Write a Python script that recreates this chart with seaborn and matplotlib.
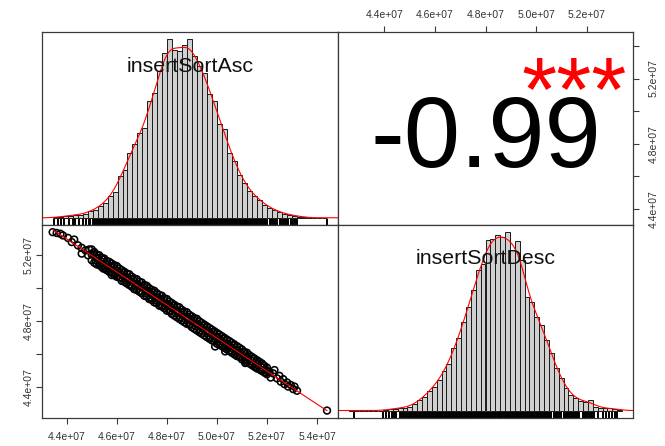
import numpy as np
import pandas as pd
import matplotlib
matplotlib.use("Agg")
import matplotlib.pyplot as plt
import seaborn as sns

# ---------------- data (values in millions) ----------------
var_names = ["insertSortAsc", "insertSortDesc"]
corr_text = "-0.99"
signif_text = "***"

# histogram bins (width 0.2e6) and counts
bin_width = 0.2
asc_bin_start = 43.4
asc_counts = [2, 3, 5, 7, 9, 10, 12, 20, 25, 35, 45, 65, 78, 125, 145, 195, 220, 255,
              270, 350, 375, 440, 495, 535, 503, 500, 517, 535, 485, 455, 435, 370,
              350, 280, 265, 195, 170, 130, 105, 80, 65, 55, 40, 30, 25, 17, 12, 10,
              7, 4, 2, 1, 0, 0, 1]
desc_bin_start = 42.4
desc_counts = [1, 0, 0, 0, 0, 0, 0, 2, 4, 6, 8, 9, 12, 20, 32, 42, 60, 72, 92, 119,
               139, 187, 217, 267, 312, 362, 422, 440, 512, 515, 527, 519, 535, 482,
               507, 452, 342, 327, 282, 257, 212, 172, 127, 97, 67, 47, 37, 29, 25,
               32, 12, 9, 7, 7, 5, 3]

# scatter points (insertSortAsc, insertSortDesc) sampled from the lower-left panel
asc_pts = [
    43.44, 43.6, 43.75, 43.85, 44.05, 44.2, 44.3, 44.45, 44.6, 44.6, 44.75, 44.85, 44.9,
    45.0, 45.0, 45.0, 45.1, 45.1,
    45.2, 45.2, 45.2, 45.3, 45.3,
    45.4, 45.4, 45.4, 45.5, 45.5,
    45.6, 45.6, 45.6, 45.7, 45.7,
    45.8, 45.8, 45.8, 45.9, 45.9,
    46.0, 46.0, 46.0, 46.1, 46.1,
    46.2, 46.2, 46.2, 46.3, 46.3,
    46.4, 46.4, 46.4, 46.5, 46.5,
    46.6, 46.6, 46.6, 46.7, 46.7,
    46.8, 46.8, 46.8, 46.9, 46.9,
    47.0, 47.0, 47.0, 47.1, 47.1,
    47.2, 47.2, 47.2, 47.3, 47.3,
    47.4, 47.4, 47.4, 47.5, 47.5,
    47.6, 47.6, 47.6, 47.7, 47.7,
    47.8, 47.8, 47.8, 47.9, 47.9,
    48.0, 48.0, 48.0, 48.1, 48.1,
    48.2, 48.2, 48.2, 48.3, 48.3,
    48.4, 48.4, 48.4, 48.5, 48.5,
    48.6, 48.6, 48.6, 48.7, 48.7,
    48.8, 48.8, 48.8, 48.9, 48.9,
    49.0, 49.0, 49.0, 49.1, 49.1,
    49.2, 49.2, 49.2, 49.3, 49.3,
    49.4, 49.4, 49.4, 49.5, 49.5,
    49.6, 49.6, 49.6, 49.7, 49.7,
    49.8, 49.8, 49.8, 49.9, 49.9,
    50.0, 50.0, 50.0, 50.1, 50.1,
    50.2, 50.2, 50.2, 50.3, 50.3,
    50.4, 50.4, 50.4, 50.5, 50.5,
    50.6, 50.6, 50.6, 50.7, 50.7,
    50.8, 50.8, 50.8, 50.9, 50.9,
    51.0, 51.0, 51.0, 51.1, 51.1,
    51.2, 51.2, 51.2, 51.3, 51.3,
    51.4, 51.4, 51.4, 51.5, 51.5,
    51.6, 51.6, 51.6, 51.7, 51.7,
    51.8, 51.8, 51.8, 51.9, 51.9,
    52.0, 52.0, 52.0,
    49.93, 50.33, 51.13, 45.46, 45.8,
    52.1, 52.15, 52.25, 52.3, 52.4, 52.5, 52.55, 52.65, 52.7, 52.8, 52.85, 52.95,
    53.05, 53.1, 53.2, 54.4,
    # mid-band points
    45.05, 45.15, 45.25, 45.35, 45.45, 45.55, 45.65, 45.75, 45.85, 45.95,
    46.05, 46.15, 46.25, 46.35, 46.45, 46.55, 46.65, 46.75, 46.85, 46.95,
    47.05, 47.15, 47.25, 47.35, 47.45, 47.55, 47.65, 47.75, 47.85, 47.95,
    48.05, 48.15, 48.25, 48.35, 48.45, 48.55, 48.65, 48.75, 48.85, 48.95,
    49.05, 49.15, 49.25, 49.35, 49.45, 49.55, 49.65, 49.75, 49.85, 49.95,
    50.05, 50.15, 50.25, 50.35, 50.45, 50.55, 50.65, 50.75, 50.85, 50.95,
    51.05, 51.15, 51.25, 51.35, 51.45, 51.55, 51.65, 51.75, 51.85, 51.95,
]
desc_pts = [
    53.4, 53.35, 53.3, 53.2, 53.05, 52.8, 52.95, 52.6, 52.1, 52.45, 52.3, 52.0, 52.35,
    52.35, 51.7, 52.05, 51.55, 52.2,
    52.05, 51.45, 51.8, 52.0, 51.4,
    51.3, 51.85, 51.6, 51.8, 51.2,
    51.65, 51.1, 51.4, 51.0, 51.6,
    51.5, 50.95, 51.25, 50.8, 51.4,
    51.35, 50.7, 51.05, 50.65, 51.2,
    51.1, 50.45, 50.8, 51.0, 50.4,
    50.3, 50.9, 50.6, 50.85, 50.2,
    50.7, 50.1, 50.4, 49.95, 50.6,
    50.55, 49.9, 50.2, 49.8, 50.4,
    50.35, 49.7, 50.05, 49.55, 50.2,
    50.15, 49.5, 49.8, 50.0, 49.35,
    49.3, 49.9, 49.6, 49.85, 49.15,
    49.7, 49.1, 49.4, 48.95, 49.6,
    49.55, 48.9, 49.2, 48.8, 49.4,
    49.35, 48.65, 49.0, 48.6, 49.2,
    49.1, 48.45, 48.8, 49.0, 48.35,
    48.25, 48.9, 48.6, 48.85, 48.15,
    48.7, 48.05, 48.4, 47.95, 48.6,
    48.55, 47.85, 48.2, 47.8, 48.4,
    48.3, 47.65, 48.0, 47.55, 48.2,
    48.15, 47.45, 47.8, 48.0, 47.35,
    47.25, 47.9, 47.6, 47.8, 47.15,
    47.7, 47.05, 47.4, 46.95, 47.6,
    47.5, 46.85, 47.2, 46.8, 47.4,
    47.3, 46.65, 47.0, 46.6, 47.2,
    47.1, 46.5, 46.8, 47.0, 46.4,
    46.3, 46.9, 46.6, 46.8, 46.2,
    46.7, 46.1, 46.4, 46.0, 46.6,
    46.5, 45.9, 46.2, 45.85, 46.4,
    46.3, 45.7, 46.0, 45.65, 46.15,
    46.1, 45.5, 45.8, 45.95, 45.45,
    45.35, 45.85, 45.6, 45.75, 45.25,
    45.65, 45.15, 45.4, 45.1, 45.55,
    45.45, 45.0, 45.2, 44.9, 45.3,
    45.2, 44.8, 45.0,
    46.48, 46.18, 45.48, 51.2, 50.8,
    44.95, 44.6, 44.85, 45.05, 44.55, 44.7, 44.35, 44.5, 44.2, 44.3, 44.05, 44.15,
    43.9, 44.05, 43.8, 42.6,
    # mid-band points
    52.13, 51.7, 51.85, 51.45, 51.73, 51.3, 51.45, 51.05, 51.33, 50.9,
    51.05, 50.65, 50.93, 50.5, 50.65, 50.25, 50.53, 50.1, 50.25, 49.85,
    50.13, 49.7, 49.85, 49.45, 49.73, 49.3, 49.45, 49.05, 49.33, 48.9,
    49.05, 48.65, 48.93, 48.5, 48.65, 48.25, 48.53, 48.1, 48.25, 47.85,
    48.13, 47.7, 47.85, 47.45, 47.73, 47.3, 47.45, 47.05, 47.33, 46.9,
    47.05, 46.65, 46.93, 46.5, 46.65, 46.25, 46.53, 46.1, 46.25, 45.85,
    46.13, 45.7, 45.85, 45.45, 45.73, 45.3, 45.45, 45.05, 45.33, 44.9,
]
axis_ticks = [44, 46, 48, 50, 52, 54]          # millions
labelled_y_ticks = [44, 48, 52]                # every other y tick carries a label
unit = 1e6

assert len(asc_pts) == len(desc_pts)

# ---------------- styling ----------------
sns.set_theme(style="white")
plt.rcParams['font.family'] = ['Liberation Sans', 'DejaVu Sans']

W, H = 665, 446
fig = plt.figure(figsize=(W / 100, H / 100), dpi=100)
fig.patch.set_facecolor("white")


def box(x0, y0, x1, y1):
    return [x0 / W, 1 - y1 / H, (x1 - x0) / W, (y1 - y0) / H]


L, M, R = 41.7, 338.0, 633.0
T, C, B = 32.3, 225.0, 417.7
ax_h1 = fig.add_axes(box(L, T, M, C))
ax_cor = fig.add_axes(box(M, T, R, C))
ax_sc = fig.add_axes(box(L, C, M, B))
ax_h2 = fig.add_axes(box(M, C, R, B))

df = pd.DataFrame({"asc": np.array(asc_pts) * unit, "desc": np.array(desc_pts) * unit})


def padded(lo, hi):
    r = hi - lo
    return lo - 0.04 * r, hi + 0.04 * r


lim_asc = padded(df["asc"].min(), df["asc"].max())
lim_desc = padded(df["desc"].min(), df["desc"].max())

FRAME = "#3a3a3a"
TXT = "#333333"


def frame(ax):
    for s in ax.spines.values():
        s.set_visible(True)
        s.set_color(FRAME)
        s.set_linewidth(0.9)
    ax.set_xlabel("")
    ax.set_ylabel("")


def hist_panel(ax, start, counts, pts, name):
    nb = len(counts)
    lo = start * unit
    hi = (start + bin_width * nb) * unit
    hdf = pd.DataFrame({"value": (start + bin_width * (np.arange(nb) + 0.5)) * unit,
                        "count": np.asarray(counts, dtype=float)})
    sns.histplot(data=hdf, x="value", weights="count", bins=nb, binrange=(lo, hi),
                 stat="density", color="#D0D0D0", alpha=1, edgecolor="#1a1a1a",
                 linewidth=0.7, ax=ax)
    ymax = max(p.get_height() for p in ax.patches)
    sns.kdeplot(data=hdf, x="value", weights="count", bw_adjust=0.35, cut=4,
                color="red", linewidth=0.8, ax=ax)
    rdf = pd.DataFrame({"value": np.asarray(pts) * unit})
    sns.rugplot(data=rdf, x="value", height=0.03, color="black", linewidth=1.4,
                ax=ax, expand_margins=False)
    ax.set_ylim(-0.04 * ymax, 1.04 * ymax)
    ax.set_xlim(*padded(lo, hi))
    ax.set_xticks([])
    ax.set_yticks([])
    ax.text(0.5, 0.825, name, transform=ax.transAxes, ha="center", va="center",
            fontsize=15.4, color="#111111", zorder=10)
    frame(ax)


hist_panel(ax_h1, asc_bin_start, asc_counts, asc_pts, var_names[0])
hist_panel(ax_h2, desc_bin_start, desc_counts, desc_pts, var_names[1])

# scatter panel
sns.scatterplot(data=df, x="asc", y="desc", ax=ax_sc, s=24, marker="o", linewidth=1.15)
coll = ax_sc.collections[-1]
coll.set_facecolor("none")
coll.set_edgecolor("black")
sns.regplot(data=df, x="asc", y="desc", scatter=False, ci=None, truncate=True,
            color="red", line_kws={"linewidth": 0.8, "zorder": 5}, ax=ax_sc)
ax_sc.set_xlim(*lim_asc)
ax_sc.set_ylim(*lim_desc)
frame(ax_sc)

# correlation panel
ax_cor.set_xlim(*lim_desc)
ax_cor.set_ylim(*lim_asc)
ax_cor.text(0.5, 0.30, corr_text, transform=ax_cor.transAxes, ha="center",
            va="baseline", fontsize=73, color="black")
ax_cor.text(0.8, 0.545, signif_text, transform=ax_cor.transAxes, ha="center",
            va="baseline", fontsize=65, color="red")
frame(ax_cor)


def fmt(v):
    return f"{v:.1e}"


tick_vals = np.array(axis_ticks) * unit


def ticks_in(lim):
    return [t for t in tick_vals if lim[0] <= t <= lim[1]]


def ylabels(ticks):
    return [fmt(t) if round(t / unit) in labelled_y_ticks else "" for t in ticks]


common = dict(direction="out", length=4.5, width=0.8, color=FRAME,
              labelsize=7.5, labelcolor=TXT)

# bottom-left: bottom + left axes
xt = ticks_in(lim_asc)
ax_sc.set_xticks(xt)
ax_sc.set_xticklabels([fmt(t) for t in xt])
yt = ticks_in(lim_desc)
ax_sc.set_yticks(yt)
ax_sc.set_yticklabels(ylabels(yt), rotation=90, va="center")
ax_sc.tick_params(axis="x", bottom=True, top=False, pad=5.5, **common)
ax_sc.tick_params(axis="y", left=True, right=False, pad=1.5, **common)

# top-right: top + right axes
xt2 = ticks_in(lim_desc)
ax_cor.set_xticks(xt2)
ax_cor.set_xticklabels([fmt(t) for t in xt2])
ax_cor.xaxis.tick_top()
yt2 = ticks_in(lim_asc)
ax_cor.set_yticks(yt2)
ax_cor.set_yticklabels(ylabels(yt2), rotation=90, va="center")
ax_cor.yaxis.tick_right()
ax_cor.tick_params(axis="x", top=True, bottom=False, labeltop=True,
                   labelbottom=False, pad=4.5, **common)
ax_cor.tick_params(axis="y", right=True, left=False, labelright=True,
                   labelleft=False, pad=7, **common)

fig.savefig("out.png", dpi=100, facecolor="white")
